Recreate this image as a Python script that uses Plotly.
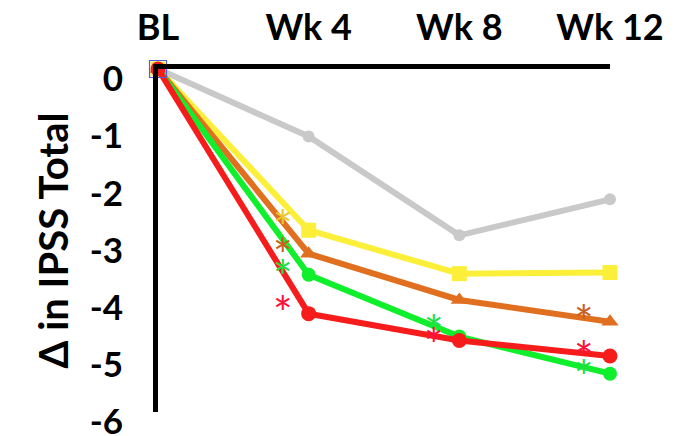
import plotly.graph_objects as go

# time points
weeks = [0, 1, 2, 3]
week_labels = ['BL', 'Wk 4', 'Wk 8', 'Wk 12']

# y axis ticks
y_ticks = [0, -1, -2, -3, -4, -5, -6]
y_tick_labels = ['0', '-1', '-2', '-3', '-4', '-5', '-6']

# change in IPSS total per group
gray_vals = [0, -1.18, -2.91, -2.28]
yellow_vals = [0, -2.82, -3.58, -3.56]
orange_vals = [0, -3.23, -4.04, -4.42]
green_vals = [0, -3.60, -4.68, -5.33]
red_vals = [0, -4.28, -4.75, -5.02]

# significance asterisks (x position, y value, group)
star_x = [0.83, 0.83, 0.83, 0.83, 1.83, 1.83, 2.83, 2.83, 2.83]
star_y = [-2.53, -3.02, -3.40, -4.04, -4.37, -4.60, -4.19, -4.82, -5.16]
star_grp = ['yellow', 'orange', 'green', 'red', 'green', 'red', 'orange', 'red', 'green']

colors = {
    'gray': '#c9c9c9',
    'yellow': '#fbef3a',
    'orange': '#e0701f',
    'green': '#10ef2c',
    'red': '#f71c1c',
}
star_colors = {
    'yellow': '#e8c830',
    'orange': '#c8601c',
    'green': '#20e040',
    'red': '#ff1038',
}

series = [
    ('gray', gray_vals, 'circle', 12),
    ('yellow', yellow_vals, 'square', 15),
    ('orange', orange_vals, 'triangle-up', 15),
    ('green', green_vals, 'circle', 14),
    ('red', red_vals, 'circle', 15),
]

fig = go.Figure()
for name, vals, sym, size in series:
    fig.add_trace(go.Scatter(
        x=weeks, y=vals, mode='lines+markers', name=name,
        line=dict(color=colors[name], width=6),
        marker=dict(symbol=sym, size=size, color=colors[name]),
        cliponaxis=False, showlegend=False,
    ))

# selection box left around the baseline point
fig.add_trace(go.Scatter(
    x=[weeks[0]], y=[red_vals[0]], mode='markers',
    marker=dict(symbol='square-open', size=17, color='#5060e0', line=dict(width=1.2)),
    cliponaxis=False, showlegend=False,
))

for sx, sy, g in zip(star_x, star_y, star_grp):
    fig.add_annotation(
        x=sx, y=sy, text='*', showarrow=False, yshift=-13,
        font=dict(family='Lato', size=46, color=star_colors[g]),
    )

fig.update_layout(
    width=679, height=436,
    margin=dict(l=150, r=77, t=61, b=32),
    plot_bgcolor='white', paper_bgcolor='white',
    font=dict(family='Lato', color='black'),
)
fig.update_xaxes(
    side='top', range=[0, 3], tickvals=weeks, ticktext=week_labels,
    showgrid=False, zeroline=False, automargin=False,
    showline=True, linecolor='black', linewidth=5,
    ticks='', tickfont=dict(size=36, weight='bold'),
    ticklabelstandoff=10,
)
fig.update_yaxes(
    range=[-6, 0], tickvals=y_ticks, ticktext=y_tick_labels,
    showgrid=False, zeroline=False, automargin=False,
    showline=True, linecolor='black', linewidth=5,
    ticks='', tickfont=dict(size=35, weight='bold'),
    ticklabelstandoff=23, ticklabelshift=10,
    title=dict(text='Δ in IPSS Total', font=dict(size=40, weight='bold'), standoff=10),
)

fig.write_html("out.html")
